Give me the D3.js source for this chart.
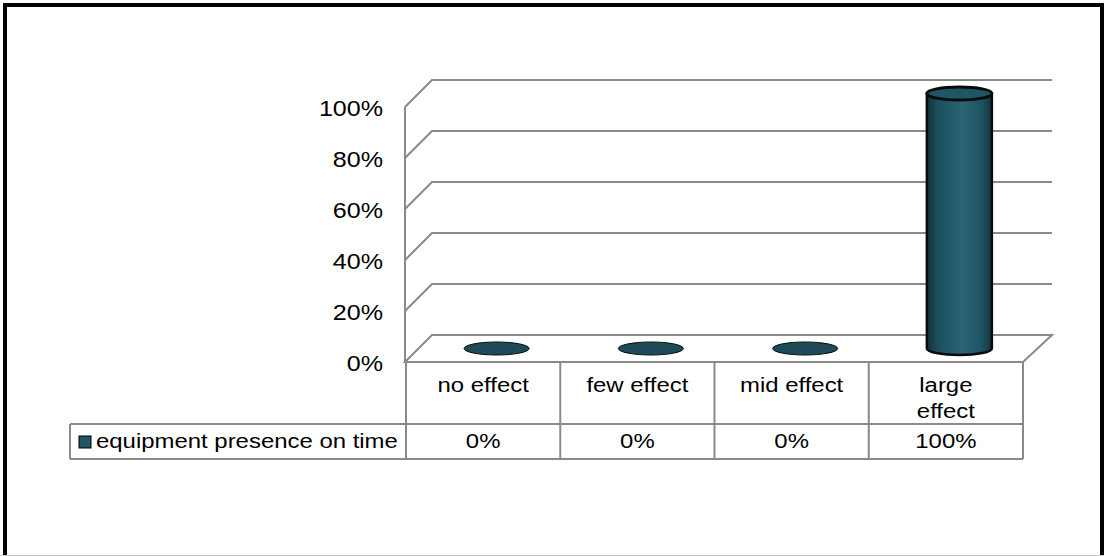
<!DOCTYPE html>
<html><head><meta charset="utf-8">
<script src="https://cdn.jsdelivr.net/npm/d3@7"></script>
<style>body{margin:0;background:#fff}svg{display:block}text{font-family:"Liberation Sans",Arial,sans-serif;fill:#000}</style>
</head><body><svg id="c" width="1104" height="556"></svg>
<script>
const categories = ["no effect", "few effect", "mid effect", "large effect"];
const categoryLines = [["no effect"], ["few effect"], ["mid effect"], ["large", "effect"]];
const seriesName = "equipment presence on time";
const values = [0, 0, 0, 1];
const valueLabels = ["0%", "0%", "0%", "100%"];
const yTicks = [0, 0.2, 0.4, 0.6, 0.8, 1];

const svg = d3.select("#c");
const grid = "#8a8a8a";
const dx = 27, dy = -27;
const sx = 1.14;
const x = d3.scaleBand().domain(categories).range([406, 1023]).padding(0);
const y = d3.scaleLinear().domain([0, 1]).range([362, 107]);
const fmt = d3.format(".0%");

function txt(sel, px, py, size, anchor, s) {
  return sel.append("text").attr("transform", `translate(${px},${py}) scale(${sx},1)`)
    .attr("text-anchor", anchor).attr("font-size", size).text(s);
}

// outer border
svg.append("rect").attr("x", 5).attr("y", 5).attr("width", 1097).attr("height", 620)
  .attr("fill", "none").attr("stroke", "#000").attr("stroke-width", 4);
svg.append("line").attr("x1", 0).attr("x2", 1104).attr("y1", 555.5).attr("y2", 555.5).attr("stroke", "#c8c8c8").attr("stroke-width", 1);

const g = svg.append("g");
// floor
g.append("path").attr("d", `M405,${y(0)} L1023,${y(0)} L${1023+dx+2},${y(0)+dy} L${405+dx},${y(0)+dy} Z`)
  .attr("fill", "none").attr("stroke", grid).attr("stroke-width", 2);
// grid lines
yTicks.forEach(t => {
  if (t === 0) return;
  const yf = y(t);
  g.append("path").attr("d", `M405,${yf} L${405+dx},${yf+dy} L1052,${yf+dy}`)
    .attr("fill", "none").attr("stroke", grid).attr("stroke-width", 2);
});
// left wall vertical
g.append("line").attr("x1", 405).attr("x2", 405).attr("y1", y(1)).attr("y2", y(0))
  .attr("stroke", grid).attr("stroke-width", 2);

// y labels
yTicks.forEach(t => txt(g, 383, y(t) + 9, 22, "end", fmt(t)));

// gradient
const defs = svg.append("defs");
const lg = defs.append("linearGradient").attr("id", "cyl").attr("x1", "0").attr("x2", "1").attr("y1", "0").attr("y2", "0");
[[0, "#0f2f38"], [0.15, "#1a4d5a"], [0.55, "#2a6676"], [0.85, "#1e5261"], [1, "#12343d"]]
  .forEach(([o, c]) => lg.append("stop").attr("offset", o).attr("stop-color", c));

// bars
const rx = 32.5, ry = 6.5;
values.forEach((v, i) => {
  const cx = x(categories[i]) + x.bandwidth() / 2 + dx / 2;
  const yb = y(0) + dy / 2, yt = y(v) + dy / 2;
  if (v > 0) {
    g.append("path").attr("d",
      `M${cx-rx},${yt} L${cx-rx},${yb} A${rx},${ry} 0 0 0 ${cx+rx},${yb} L${cx+rx},${yt} Z`)
      .attr("fill", "url(#cyl)").attr("stroke", "#0a0a0a").attr("stroke-width", 2.5);
    g.append("ellipse").attr("cx", cx).attr("cy", yt).attr("rx", rx).attr("ry", ry)
      .attr("fill", "#1f5665").attr("stroke", "#0a0a0a").attr("stroke-width", 3);
  } else {
    g.append("ellipse").attr("cx", cx).attr("cy", yb).attr("rx", rx).attr("ry", ry)
      .attr("fill", "#1c4b57").attr("stroke", "#0a0a0a").attr("stroke-width", 1);
  }
});

// data table
const tRow1 = y(0), tRow2 = 424, tRow3 = 459;
const tl = g.append("g").attr("stroke", grid).attr("stroke-width", 2);
tl.append("line").attr("x1", 70).attr("x2", 1023).attr("y1", tRow2).attr("y2", tRow2);
tl.append("line").attr("x1", 70).attr("x2", 1023).attr("y1", tRow3).attr("y2", tRow3);
tl.append("line").attr("x1", 70).attr("x2", 70).attr("y1", tRow2).attr("y2", tRow3);
categories.forEach(c => {
  tl.append("line").attr("x1", x(c)).attr("x2", x(c)).attr("y1", tRow1).attr("y2", tRow3);
});
tl.append("line").attr("x1", 1023).attr("x2", 1023).attr("y1", tRow1).attr("y2", tRow3);

categories.forEach((c, i) => {
  const cx = x(c) + x.bandwidth() / 2;
  categoryLines[i].forEach((ln, j) => txt(g, cx, 392 + j * 26, 21, "middle", ln));
  txt(g, cx, 448, 21, "middle", valueLabels[i]);
});
// legend key
g.append("rect").attr("x", 79).attr("y", 436).attr("width", 12).attr("height", 12)
  .attr("fill", "#1f5665").attr("stroke", "#000").attr("stroke-width", 1);
txt(g, 96, 448, 21, "start", seriesName);
</script></body></html>
